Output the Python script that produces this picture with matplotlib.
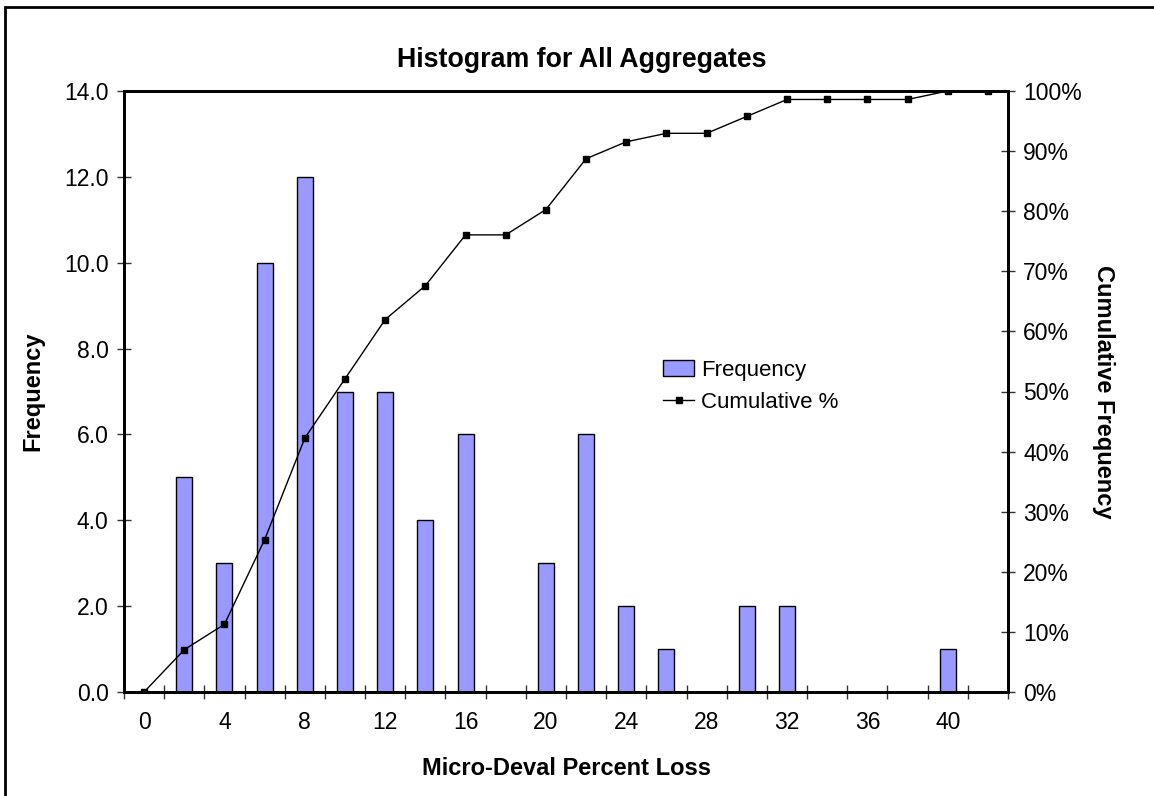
import matplotlib.pyplot as plt
import matplotlib.patches as mpatches
from matplotlib.ticker import FixedLocator, FormatStrFormatter
import numpy as np

plt.rcParams['font.family'] = ['Liberation Sans', 'DejaVu Sans']

bins = [0, 2, 4, 6, 8, 10, 12, 14, 16, 18, 20, 22, 24, 26, 28, 30, 32, 34, 36, 38, 40, 42]
frequency = [0, 5, 3, 10, 12, 7, 7, 4, 6, 0, 3, 6, 2, 1, 0, 2, 2, 0, 0, 0, 1, 0]
cumulative_pct = [0, 7.04, 11.27, 25.35, 42.25, 52.11, 61.97, 67.61, 76.06, 76.06, 80.28,
                  88.73, 91.55, 92.96, 92.96, 95.77, 98.59, 98.59, 98.59, 98.59, 100, 100]

W, H = 1154, 796
fig = plt.figure(figsize=(W / 100, H / 100), dpi=100)

# plot area in pixels: left 124, right 1008, top 91, bottom 692
ax = fig.add_axes([124 / W, 1 - 692 / H, (1008 - 124) / W, (692 - 91) / H])
ax2 = ax.twinx()

x = np.arange(len(bins))
ax.bar(x, frequency, width=0.4, color='#9999FF', edgecolor='black', linewidth=1.0,
       label='Frequency', zorder=2)
ax2.plot(x, cumulative_pct, color='black', linewidth=1.0, marker='s', markersize=5,
         label='Cumulative %', zorder=3)

ax.set_xlim(-0.5, len(bins) - 0.5)
ax.set_ylim(0, 14)
ax2.set_ylim(0, 100)

ax.set_yticks(np.arange(0, 14.1, 2))
ax.yaxis.set_major_formatter(FormatStrFormatter('%.1f'))
ax2.set_yticks(np.arange(0, 101, 10))
ax2.set_yticklabels([f"{v}%" for v in range(0, 101, 10)])

# labels at every other category, tick marks between categories
ax.set_xticks(x[::2])
ax.set_xticklabels([str(b) for b in bins[::2]])
ax.tick_params(axis='x', which='major', length=0, pad=14, labelsize=16.5)
ax.xaxis.set_minor_locator(FixedLocator(np.arange(-0.5, len(bins), 1.0)))
ax.tick_params(axis='x', which='minor', direction='inout', length=10, width=1, color='#333333')

ax.tick_params(axis='y', direction='inout', length=10, width=1, color='#333333',
               labelsize=16.5, pad=6)
ax2.tick_params(axis='y', direction='inout', length=10, width=1, color='#333333',
                labelsize=16.5, pad=6)

for a in (ax, ax2):
    for s in a.spines.values():
        s.set_linewidth(2)
        s.set_color('black')

ax.set_title('Histogram for All Aggregates', fontsize=19.3, fontweight='bold', pad=17,
             x=0.518)
ax.set_xlabel('Micro-Deval Percent Loss', fontsize=17, fontweight='bold', labelpad=16)
ax.set_ylabel('Frequency', fontsize=17, fontweight='bold')
ax.yaxis.set_label_coords(-0.0905, 0.5)
ax2.set_ylabel('Cumulative Frequency', fontsize=17, fontweight='bold', rotation=-90,
               labelpad=24)

h1, l1 = ax.get_legend_handles_labels()
h2, l2 = ax2.get_legend_handles_labels()
leg = ax2.legend(h1 + h2, l1 + l2, loc='upper left', bbox_to_anchor=(0.6, 0.568),
                 frameon=False, fontsize=16, handlelength=1.4, handletextpad=0.3,
                 labelspacing=0.5, borderaxespad=0)

# outer chart border
fig.patches.append(mpatches.Rectangle((5 / W, -0.01), 1.02, 1 - 7 / H + 0.01,
                                      transform=fig.transFigure, fill=False,
                                      edgecolor='black', linewidth=2))

fig.savefig('out.png', dpi=100)
